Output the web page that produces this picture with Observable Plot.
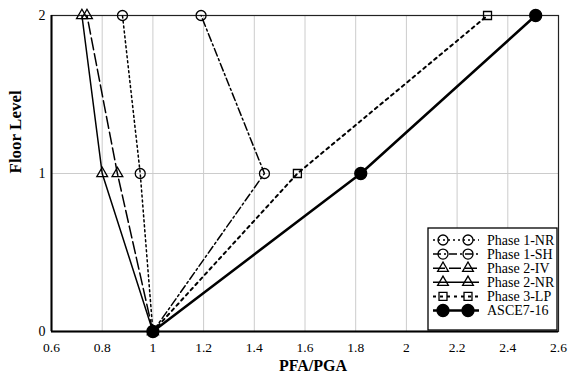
<!DOCTYPE html>
<html>
<head>
<meta charset="utf-8">
<script src="https://cdn.jsdelivr.net/npm/d3@7"></script>
<script src="https://cdn.jsdelivr.net/npm/@observablehq/plot@0.6"></script>
<style>
  html, body { margin: 0; padding: 0; background: #fff; }
  #chart { position: relative; width: 571px; height: 374px; }
</style>
</head>
<body>
<div id="chart"></div>
<script>
const levels = [0, 1, 2];
const seriesNames = ["Phase 1-NR", "Phase 1-SH", "Phase 2-IV", "Phase 2-NR", "Phase 3-LP", "ASCE7-16"];
const phase1NR = [1, 0.95, 0.88];
const phase1SH = [1, 1.44, 1.19];
const phase2IV = [1, 0.86, 0.74];
const phase2NR = [1, 0.80, 0.72];
const phase3LP = [1, 1.57, 2.32];
const asce716 = [1, 1.82, 2.51];
const xTicks = [0.6, 0.8, 1, 1.2, 1.4, 1.6, 1.8, 2, 2.2, 2.4, 2.6];
const yTicks = [0, 1, 2];

const seriesValues = [phase1NR, phase1SH, phase2IV, phase2NR, phase3LP, asce716];

const styles = [
  {dash: "2,3", width: 1.5, symbol: "circle", r: 5, fill: "none"},
  {dash: "8,3,2,3", width: 1.5, symbol: "circle", r: 5, fill: "none"},
  {dash: "12,4", width: 1.5, symbol: "triangle", r: 4, fill: "none"},
  {dash: null, width: 1.5, symbol: "triangle", r: 4, fill: "none"},
  {dash: "3,4", width: 2, symbol: "square", r: 4.5, fill: "none"},
  {dash: null, width: 2.5, symbol: "circle", r: 6, fill: "black"}
];

const data = seriesNames.map((name, i) =>
  levels.map((lv, j) => ({series: name, x: seriesValues[i][j], y: lv}))
);

const font = "'Liberation Serif', 'Times New Roman', serif";

const marks = [
  Plot.gridX(xTicks, {stroke: "#cccccc", strokeOpacity: 1, strokeWidth: 1}),
  Plot.gridY([1], {stroke: "#cccccc", strokeOpacity: 1, strokeWidth: 1}),
  Plot.frame({stroke: "#222", strokeWidth: 1.2}),
  Plot.ruleX([0.6], {stroke: "black", strokeWidth: 2}),
  Plot.ruleY([0], {stroke: "black", strokeWidth: 2}),
  Plot.axisX({ticks: xTicks, tickSize: 0, tickPadding: 11, tickFormat: d => String(+d.toFixed(1)), label: null, fontSize: 13.5}),
  Plot.axisY({ticks: yTicks, tickSize: 0, tickPadding: 6, tickFormat: d => String(d), label: null, fontSize: 14}),
  Plot.text(["PFA/PGA"], {frameAnchor: "bottom", lineAnchor: "bottom", dx: 8, dy: 39, fontWeight: "bold", fontSize: 16}),
  Plot.text(["Floor Level"], {frameAnchor: "left", dx: -36, rotate: -90, fontWeight: "bold", fontSize: 17})
];

data.forEach((d, i) => {
  const s = styles[i];
  marks.push(Plot.line(d, {x: "x", y: "y", stroke: "black", strokeWidth: s.width, strokeDasharray: s.dash || undefined}));
});
data.forEach((d, i) => {
  const s = styles[i];
  marks.push(Plot.dot(d, {x: "x", y: "y", symbol: () => s.symbol, r: s.r, stroke: "black", strokeWidth: 1.3, fill: s.fill}));
});

const plot = Plot.plot({
  width: 571,
  height: 374,
  marginLeft: 51,
  marginRight: 13,
  marginTop: 15,
  marginBottom: 43,
  style: {fontFamily: font, fontSize: "14px", color: "black", background: "white"},
  x: {domain: [0.6, 2.6]},
  y: {domain: [0, 2]},
  symbol: {type: "identity"},
  marks
});

document.getElementById("chart").appendChild(plot);

// Legend
const svg = d3.select(plot);
const lg = svg.append("g").attr("font-family", font).attr("font-size", 14).attr("text-anchor", "start");
lg.append("rect").attr("x", 428).attr("y", 228).attr("width", 129).attr("height", 102)
  .attr("fill", "white").attr("stroke", "black").attr("stroke-width", 1.3);
const symMap = {circle: d3.symbolCircle, triangle: d3.symbolTriangle, square: d3.symbolSquare};
seriesNames.forEach((name, i) => {
  const s = styles[i];
  const y = 240 + i * 14.1;
  lg.append("line").attr("x1", 433).attr("x2", 479).attr("y1", y).attr("y2", y)
    .attr("stroke", "black").attr("stroke-width", s.width)
    .attr("stroke-dasharray", s.dash || null);
  [443, 468].forEach(x => {
    lg.append("path")
      .attr("d", d3.symbol(symMap[s.symbol], Math.PI * s.r * s.r)())
      .attr("transform", `translate(${x},${y})`)
      .attr("fill", s.fill).attr("stroke", "black").attr("stroke-width", 1.3);
  });
  lg.append("text").attr("x", 487).attr("y", y).attr("dy", "0.35em").attr("text-anchor", "start").text(name);
});
</script>
</body>
</html>
